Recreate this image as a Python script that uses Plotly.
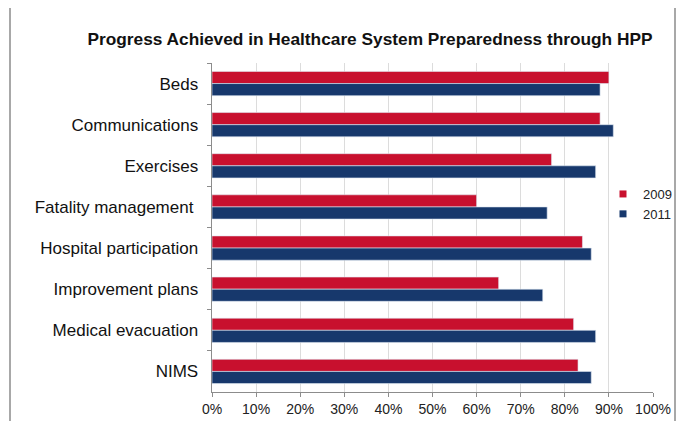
import plotly.graph_objects as go

categories = ["Beds", "Communications", "Exercises", "Fatality management ",
              "Hospital participation", "Improvement plans", "Medical evacuation", "NIMS"]
values_2009 = [0.90, 0.88, 0.77, 0.60, 0.84, 0.65, 0.82, 0.83]
values_2011 = [0.88, 0.91, 0.87, 0.76, 0.86, 0.75, 0.87, 0.86]
series_names = ["2009", "2011"]
colors = ["#C8102E", "#17386C"]
x_ticks = [0, 0.1, 0.2, 0.3, 0.4, 0.5, 0.6, 0.7, 0.8, 0.9, 1.0]

# the page body has an 8px margin, so figure coordinates = screen coordinates - 8
OFF = 8
L, R, T, B = 212 - OFF, 684 - (653 - OFF), 63 - OFF, 421 - (392 - OFF)
PW, PH = 684 - L - R, 421 - T - B

fig = go.Figure()
for name, vals, col in zip(series_names, [values_2009, values_2011], colors):
    fig.add_trace(go.Bar(
        y=categories, x=vals, name=name, orientation="h", showlegend=False,
        marker=dict(color=col, line=dict(color="#dfe8f2", width=0.6)),
    ))
# legend entries with small square swatches
for name, col in zip(series_names, colors):
    fig.add_trace(go.Scatter(
        x=[None], y=[None], mode="markers", name=name,
        marker=dict(symbol="square", size=7, color=col),
    ))

font_family = "Liberation Sans, Arial, sans-serif"
fig.update_layout(
    width=684, height=421,
    margin=dict(l=L, r=R, t=T, b=B, autoexpand=False),
    paper_bgcolor="white", plot_bgcolor="white",
    barmode="group", bargap=0.41, bargroupgap=0,
    font=dict(family=font_family, color="#111111"),
    title=dict(text="<b>Progress Achieved in Healthcare System Preparedness through HPP</b>",
               x=(370 - OFF) / 684, xanchor="center", y=1 - (39 - OFF) / 421, yanchor="middle",
               font=dict(size=17.3, color="#111111", family=font_family)),
    showlegend=True,
    legend=dict(xref="container", yref="container",
                x=(603 - OFF) / 684, y=1 - (204 - OFF) / 421, xanchor="left", yanchor="middle",
                font=dict(size=13, color="#222222"), bgcolor="rgba(0,0,0,0)",
                itemwidth=30, traceorder="normal", tracegroupgap=0),
    xaxis=dict(range=[0, 1.0], tickvals=x_ticks, tickformat=".0%",
               showgrid=True, gridcolor="#dcdcdc", gridwidth=1,
               showline=True, linecolor="#8c8c8c", linewidth=1,
               ticks="outside", ticklen=4, tickcolor="#8c8c8c", automargin=False,
               tickfont=dict(size=14, color="#222222"), zeroline=False, fixedrange=True),
    yaxis=dict(autorange="reversed", showline=True, linecolor="#8c8c8c", linewidth=1,
               ticks="outside", ticklen=4, tickcolor="#8c8c8c", tickson="boundaries",
               automargin=False,
               tickfont=dict(size=17, color="#111111"), ticksuffix="  ", showgrid=False),
)

# outer frame (decorative border of the original image)
fig.add_shape(type="rect", xref="paper", yref="paper",
              x0=(10 - 212) / PW, x1=(675 - 212) / PW,
              y0=(392 - 440) / PH, y1=(392 - 3) / PH,
              line=dict(color="#8c8c8c", width=1.5), layer="below")

fig.write_html("out.html")
